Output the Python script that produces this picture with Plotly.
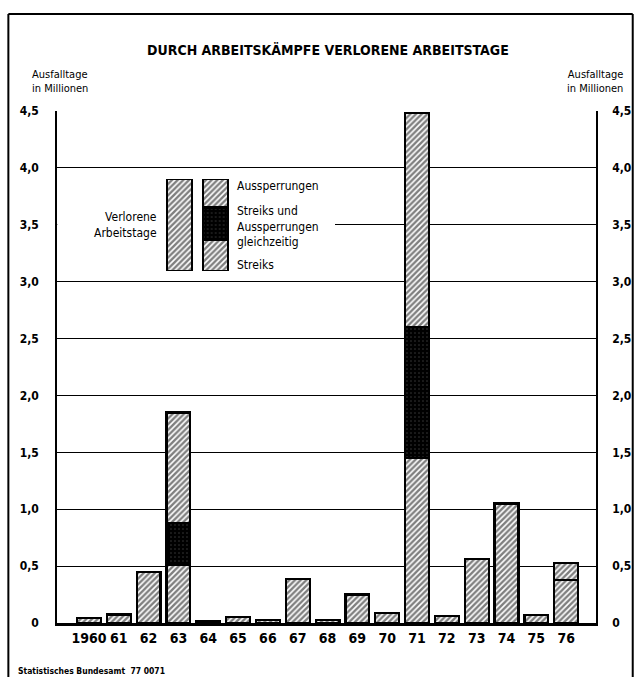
import plotly.graph_objects as go

# ---- data (Mio. Ausfalltage) ----
jahre = ["1960", "61", "62", "63", "64", "65", "66", "67", "68",
         "69", "70", "71", "72", "73", "74", "75", "76"]
streiks = [0.045, 0.075, 0.45, 0.51, 0.02, 0.05, 0.025, 0.39, 0.025,
           0.25, 0.09, 1.45, 0.065, 0.56, 1.05, 0.07, 0.38]
gleichzeitig = [None, None, None, 0.37, None, None, None, None, None,
                None, None, 1.15, None, None, None, None, None]
aussperrungen = [None, None, None, 0.97, None, None, None, None, None,
                 None, None, 1.88, None, None, None, None, 0.15]
y_ticks = [0, 0.5, 1.0, 1.5, 2.0, 2.5, 3.0, 3.5, 4.0, 4.5]
y_ticktext = ["0", "0,5", "1,0", "1,5", "2,0", "2,5", "3,0", "3,5", "4,0", "4,5"]

# legend sample bars
leg_x = [0, 1]
leg_streiks = [1.0, 0.34]
leg_gleich = [None, 0.35]
leg_aus = [None, 0.31]

FONT = "Liberation Sans Narrow, DejaVu Sans Condensed, Roboto Condensed, Arial Narrow, Liberation Sans, sans-serif"

W, H = 643, 677
L, R, T, B = 57, 43, 111, 54
PW, PH = W - L - R, H - T - B


def px(x):
    return (x - L) / PW


def py(y):
    return (H - B - y) / PH


hatch = dict(shape="/", fgcolor="black", bgcolor="white", size=4, solidity=0.6)
dark = dict(shape=".", fgcolor="#777777", bgcolor="black", size=4, solidity=0.12)
outline = dict(color="black", width=2.2)

fig = go.Figure()
fig.add_trace(go.Bar(x=jahre, y=streiks, name="Streiks", width=0.8,
                     marker=dict(color="white", pattern=hatch, line=outline),
                     cliponaxis=False))
fig.add_trace(go.Bar(x=jahre, y=gleichzeitig, name="Streiks und Aussperrungen gleichzeitig", width=0.8,
                     marker=dict(color="black", pattern=dark, line=outline),
                     cliponaxis=False))
fig.add_trace(go.Bar(x=jahre, y=aussperrungen, name="Aussperrungen", width=0.8,
                     marker=dict(color="white", pattern=hatch, line=outline),
                     cliponaxis=False))
# dummy trace for the right-hand axis
fig.add_trace(go.Scatter(x=[jahre[0]], y=[0], yaxis="y3", mode="markers",
                         marker=dict(opacity=0), hoverinfo="skip", showlegend=False))

# legend sample bars on their own small axes
fig.add_trace(go.Bar(x=leg_x, y=leg_streiks, xaxis="x2", yaxis="y2", width=0.7,
                     marker=dict(color="white", pattern=hatch, line=outline), showlegend=False))
fig.add_trace(go.Bar(x=leg_x, y=leg_gleich, xaxis="x2", yaxis="y2", width=0.7,
                     marker=dict(color="black", pattern=dark, line=outline), showlegend=False))
fig.add_trace(go.Bar(x=leg_x, y=leg_aus, xaxis="x2", yaxis="y2", width=0.7,
                     marker=dict(color="white", pattern=hatch, line=outline), showlegend=False))

fig.update_layout(
    width=W, height=H,
    margin=dict(l=L, r=R, t=T, b=B),
    paper_bgcolor="white", plot_bgcolor="white",
    barmode="stack", bargap=0.2,
    showlegend=False,
    font=dict(family=FONT, color="black", size=12),
    xaxis=dict(type="category", range=[-1.07, 17.0], showgrid=False,
               showline=True, linecolor="black", linewidth=3,
               ticks="", tickfont=dict(size=14, family=FONT, weight="bold"),
               ticklabelstandoff=0),
    yaxis=dict(range=[0, 4.5], tickvals=y_ticks, ticktext=y_ticktext,
               showgrid=True, gridcolor="black", gridwidth=1.2,
               showline=True, linecolor="black", linewidth=1.5,
               zeroline=False, ticks="", ticklabelstandoff=14,
               tickfont=dict(size=12, family=FONT, weight="bold")),
    yaxis3=dict(range=[0, 4.5], tickvals=y_ticks, ticktext=y_ticktext,
                overlaying="y", side="right", showgrid=False,
                showline=True, linecolor="black", linewidth=1.5,
                zeroline=False, ticks="", ticklabelstandoff=12,
                tickfont=dict(size=12, family=FONT, weight="bold")),
    xaxis2=dict(domain=[px(162.5), px(234.5)], range=[-0.5, 1.5], anchor="y2",
                visible=False, fixedrange=True),
    yaxis2=dict(domain=[py(271), py(179)], range=[0, 1], anchor="x2",
                visible=False, fixedrange=True),
)

# white background behind the legend (hides the 3.5 grid line)
fig.add_shape(type="rect", xref="x", yref="y", x0=-1.06, x1=8.25, y0=3.04, y1=3.96,
              fillcolor="white", line=dict(width=0), layer="between")

# outer frame of the figure
frame = dict(color="black", width=2)
fig.add_shape(type="line", xref="paper", yref="paper", x0=px(8), x1=px(637), y0=py(14), y1=py(14), line=frame)
fig.add_shape(type="line", xref="paper", yref="paper", x0=px(8), x1=px(8), y0=py(14), y1=py(677), line=frame)
fig.add_shape(type="line", xref="paper", yref="paper", x0=px(637), x1=px(637), y0=py(14), y1=py(677), line=frame)

ann = []
ann.append(dict(text="<b>DURCH ARBEITSKÄMPFE VERLORENE ARBEITSTAGE</b>", x=px(330), y=py(50),
                xref="paper", yref="paper", showarrow=False, xanchor="center", yanchor="middle",
                font=dict(size=14, family=FONT)))
ann.append(dict(text="Ausfalltage<br>in Millionen", x=px(30), y=py(81), xref="paper", yref="paper",
                showarrow=False, xanchor="left", yanchor="middle", align="left",
                font=dict(size=11, family=FONT)))
ann.append(dict(text="Ausfalltage<br>in Millionen", x=px(629), y=py(81), xref="paper", yref="paper",
                showarrow=False, xanchor="right", yanchor="middle", align="right",
                font=dict(size=11, family=FONT)))
ann.append(dict(text="Verlorene<br>Arbeitstage", x=px(160), y=py(225), xref="paper", yref="paper",
                showarrow=False, xanchor="right", yanchor="middle", align="right",
                font=dict(size=12, family=FONT)))
ann.append(dict(text="Aussperrungen", x=px(236), y=py(186), xref="paper", yref="paper",
                showarrow=False, xanchor="left", yanchor="middle", align="left",
                font=dict(size=12, family=FONT)))
ann.append(dict(text="Streiks und<br>Aussperrungen<br>gleichzeitig", x=px(236), y=py(226),
                xref="paper", yref="paper", showarrow=False, xanchor="left", yanchor="middle",
                align="left", font=dict(size=12, family=FONT)))
ann.append(dict(text="Streiks", x=px(236), y=py(265), xref="paper", yref="paper",
                showarrow=False, xanchor="left", yanchor="middle", align="left",
                font=dict(size=12, family=FONT)))
ann.append(dict(text="<b>Statistisches Bundesamt  77 0071</b>", x=px(16), y=py(671), xref="paper",
                yref="paper", showarrow=False, xanchor="left", yanchor="middle",
                font=dict(size=8.5, family=FONT)))
fig.update_layout(annotations=ann)

fig.write_html("out.html", config={"displayModeBar": False},
               post_script="document.body.style.margin='0';document.body.style.overflow='hidden';")
